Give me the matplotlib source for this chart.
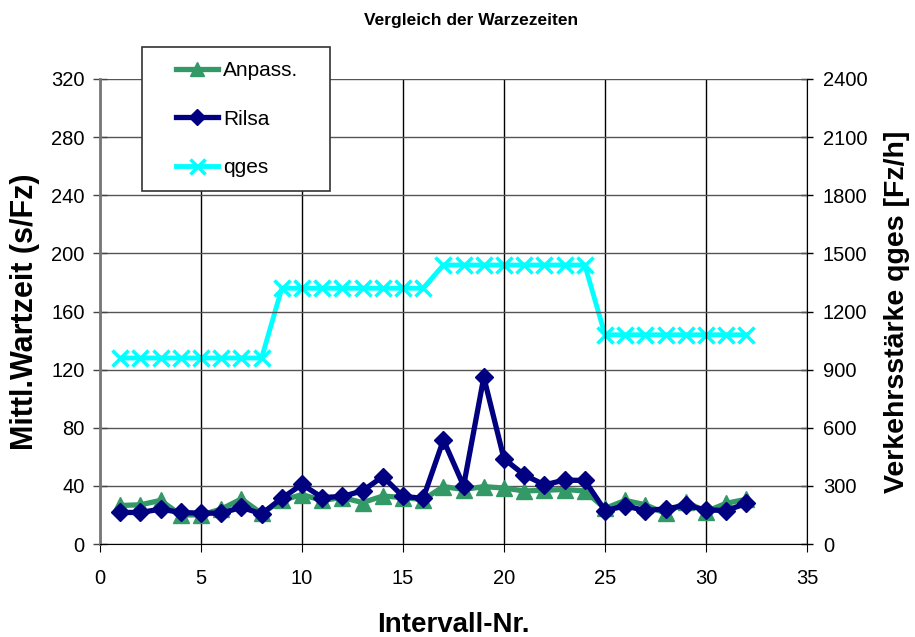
import matplotlib
matplotlib.use("Agg")
import matplotlib.pyplot as plt
from matplotlib.patches import Rectangle

plt.rcParams['font.family'] = ['Liberation Sans', 'DejaVu Sans']

intervals = list(range(1, 33))
anpass = [26.5, 27, 30, 20, 20, 24, 31, 21, 30, 34, 30, 32, 28.5, 33, 32, 30.5,
          39.5, 37.5, 39.5, 38.5, 36.5, 37, 37.5, 36.5, 24.5, 30, 27, 21, 29, 22.3, 28, 30.8]
rilsa = [21.7, 21.7, 24, 21.7, 21.2, 21.2, 25.3, 20.7, 31.5, 41, 32, 32.7, 36.6, 46.4, 32.7, 31.5,
         71.6, 40, 114.8, 58.6, 47.6, 40.7, 44, 43.7, 23, 26.2, 23, 24.2, 26.5, 23.5, 23, 28]
qges = [960]*8 + [1320]*8 + [1440]*8 + [1080]*8

left_ticks = list(range(0, 321, 40))
right_ticks = list(range(0, 2401, 300))
x_ticks = list(range(0, 36, 5))

W, H = 915, 637
fig = plt.figure(figsize=(W/100, H/100), dpi=100)
ax = fig.add_axes([100/W, 93/H, 707/W, 465/H])
ax2 = ax.twinx()

ax.set_xlim(0, 35)
ax.set_ylim(0, 320)
ax2.set_ylim(0, 2400)
ax.set_xticks(x_ticks)
ax.set_yticks(left_ticks)
ax2.set_yticks(right_ticks)

ax.xaxis.grid(True, color='#000000', linewidth=1.0)
ax.yaxis.grid(True, color='#555555', linewidth=1.0)
ax.set_axisbelow(True)

for a in (ax, ax2):
    a.spines['top'].set_visible(False)
ax.spines['left'].set_color('#777777')
ax.spines['left'].set_linewidth(2)
ax.spines['right'].set_visible(False)
ax2.spines['left'].set_visible(False)
ax2.spines['right'].set_color('black')
ax2.spines['bottom'].set_visible(False)

ax.tick_params(axis='y', labelsize=14.5, length=10, width=1, direction='inout', pad=6,
               color='#444444')
ax.tick_params(axis='x', labelsize=14.5, direction='out', length=6, pad=12)
ax2.tick_params(axis='y', labelsize=14.5, length=9, width=1, direction='inout', pad=7)

l3, = ax2.plot(intervals, qges, color='#00FFFF', lw=3.5, marker='x', ms=12, mew=2.5, label='qges')
l1, = ax.plot(intervals, anpass, color='#339966', lw=3.8, marker='^', ms=11, label='Anpass.')
l2, = ax.plot(intervals, rilsa, color='#000080', lw=3.8, marker='D', ms=9.5, label='Rilsa')
ax.set_zorder(ax2.get_zorder() + 1)
ax.patch.set_visible(False)

ax.set_xlabel('Intervall-Nr.', fontsize=20, fontweight='bold', labelpad=17)
ax.set_ylabel('Mittl.Wartzeit (s/Fz)', fontsize=22, fontweight='bold', labelpad=8)
ax2.set_ylabel('Verkehrsstärke qges [Fz/h]', fontsize=20.5, fontweight='bold', labelpad=12)

fig.text(471/W, 1 - 20/H, 'Vergleich der Warzezeiten', ha='center', va='center',
         fontsize=12.5, fontweight='bold')

# legend frame
fig.patches.append(Rectangle((142/W, 1 - 191/H), (330-142)/W, (191-47)/H,
                             transform=fig.transFigure, facecolor='white',
                             edgecolor='#333333', linewidth=1.2, zorder=5))
leg = fig.legend(handles=[l1, l2, l3], loc='upper left',
                 bbox_to_anchor=(176/W, 1 - 61/H), bbox_transform=fig.transFigure,
                 fontsize=15, frameon=False,
                 labelspacing=1.42, handlelength=2.0, handletextpad=0.25,
                 borderpad=0, borderaxespad=0, markerscale=0.9)
leg.set_zorder(6)

fig.savefig('out.png', dpi=100)
